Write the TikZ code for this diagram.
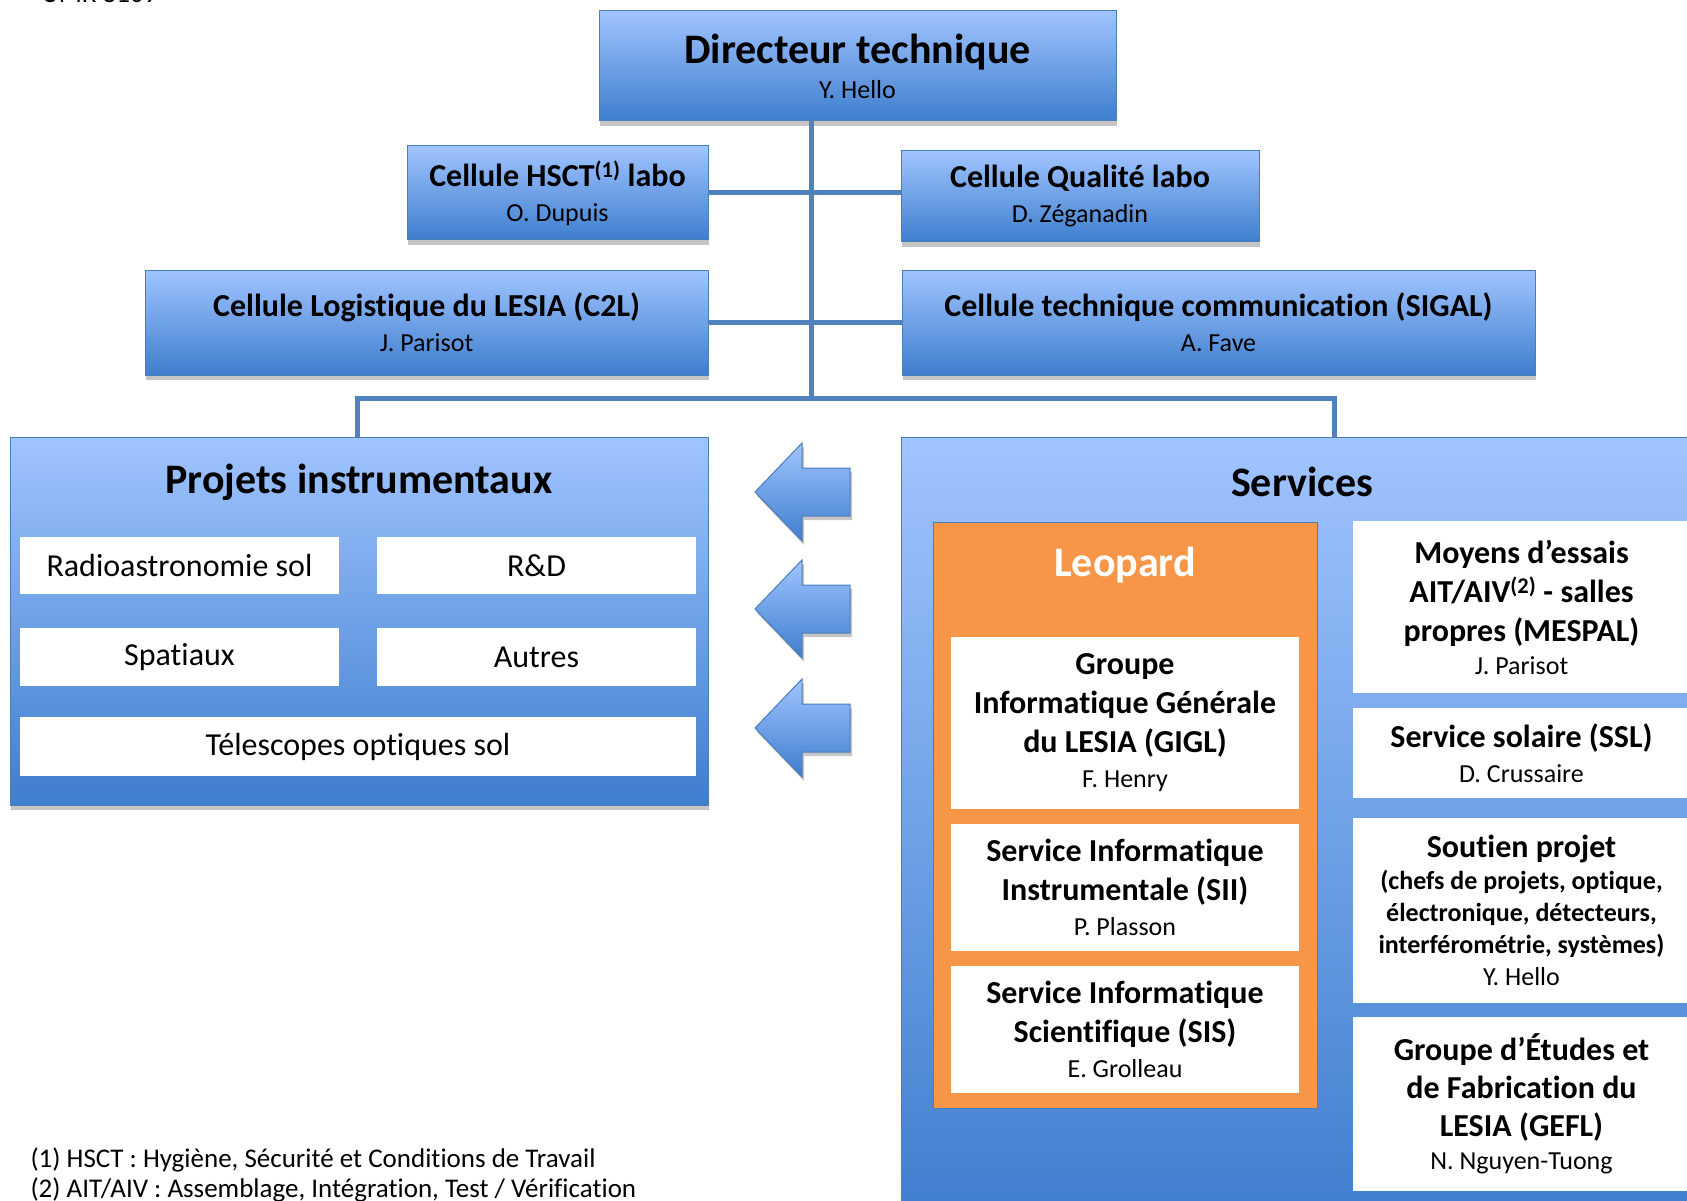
\documentclass[tikz,border=0pt]{standalone}
\usepackage{fontspec}
\setmainfont{Carlito}[Ligatures={NoCommon,NoContextual}]
\usetikzlibrary{shadows}
\definecolor{boxtop}{RGB}{160,196,255}
\definecolor{boxbot}{RGB}{62,126,205}
\definecolor{boxline}{RGB}{74,126,187}
\definecolor{linkblue}{RGB}{79,129,189}
\definecolor{leoorange}{RGB}{247,150,70}
\newcommand\ttl{\fontsize{32}{35}\selectfont\bfseries}
\newcommand\nme{\fontsize{26}{35}\selectfont}
\newcommand\bigttl{\fontsize{42}{48}\selectfont\bfseries}
\newcommand\smallttl{\fontsize{26}{32}\selectfont\bfseries}
\newcommand\txt{\fontsize{32}{38}\selectfont}
\newcommand\foot{\fontsize{27}{30}\selectfont}
\begin{document}
\begin{tikzpicture}[x=1pt,y=-1pt,
    cell/.style={draw=boxline,line width=1pt,top color=boxtop,bottom color=boxbot,
      drop shadow={shadow xshift=1pt,shadow yshift=-5pt,fill=black!45,opacity=0.5},
      align=center,font=\nme,inner sep=0pt},
    whitebox/.style={fill=white,align=center,font=\nme,inner sep=0pt},
    link/.style={draw=linkblue,line width=5pt},
    fatarrow/.style={draw=boxline,line width=1pt,top color=boxtop,bottom color=boxbot,
      drop shadow={shadow xshift=2pt,shadow yshift=-4pt,fill=black!45,opacity=0.5}}]
    \useasboundingbox (0,0) rectangle (1687,1201);
    \clip (0,0) rectangle (1687,1201);

    % top of the chart
    \node[cell,minimum width=517pt,minimum height=110pt] (dir) at (857.5,66)
        {\bigttl Directeur technique\\Y. Hello};
    \node[cell,minimum width=301pt,minimum height=94pt] (hsct) at (557.5,193)
        {\ttl Cellule HSCT\textsuperscript{(1)} labo\\O. Dupuis};
    \node[cell,minimum width=358pt,minimum height=91pt] (qual) at (1080,196.5)
        {\ttl Cellule Qualité labo\\D. Zéganadin};
    \node[cell,minimum width=563pt,minimum height=105pt] (ctl) at (426.5,322.5)
        {\ttl Cellule Logistique du LESIA (C2L)\\J. Parisot};
    \node[cell,minimum width=633pt,minimum height=105pt] (sigal) at (1218.5,322.5)
        {\ttl Cellule technique communication (SIGAL)\\A. Fave};

    % projets
    \node[cell,minimum width=698pt,minimum height=368pt] (projets) at (359,621) {};
    \node[font=\bigttl] (projT) at (359,482) {Projets instrumentaux};
    \node[whitebox,font=\txt,minimum width=319pt,minimum height=57pt] (radio) at (179.5,565.5) {Radioastronomie sol};
    \node[whitebox,font=\txt,minimum width=319pt,minimum height=57pt] (rd) at (536.5,565.5) {R\&D};
    \node[whitebox,font=\txt,minimum width=319pt,minimum height=58pt] (spat) at (179.5,657) {Spatiaux};
    \node[whitebox,font=\txt,minimum width=319pt,minimum height=58pt] (autres) at (536.5,657) {Autres};
    \node[whitebox,font=\txt,minimum width=676pt,minimum height=59pt] (telesc) at (358,746.5) {Télescopes optiques sol};

    % services
    \node[cell,minimum width=810pt,minimum height=790pt] (services) at (1306,832) {};
    \node[font=\bigttl] (servT) at (1302,482) {Services};
    \node[draw=boxline,fill=leoorange,minimum width=384pt,minimum height=586pt] (leopard) at (1125,815) {};
    \node[font=\bigttl,text=white] (leoT) at (1125,565) {Leopard};
    \node[whitebox,minimum width=348pt,minimum height=172pt] (gigl) at (1125,723)
        {\ttl Groupe\\[4pt]\ttl Informatique Générale\\[4pt]\ttl du LESIA (GIGL)\\F. Henry};
    \node[whitebox,minimum width=348pt,minimum height=127pt] (sii) at (1125,887.5)
        {\ttl Service Informatique\\[4pt]\ttl Instrumentale (SII)\\P. Plasson};
    \node[whitebox,minimum width=348pt,minimum height=127pt] (sis) at (1125,1029.5)
        {\ttl Service Informatique\\[4pt]\ttl Scientifique (SIS)\\E. Grolleau};
    \node[whitebox,minimum width=337pt,minimum height=172pt] (mespal) at (1521.5,607)
        {\ttl Moyens d’essais\\[4pt]\ttl AIT/AIV\textsuperscript{(2)} - salles\\[4pt]\ttl propres (MESPAL)\\[-2pt]J. Parisot};
    \node[whitebox,minimum width=337pt,minimum height=90pt] (ssl) at (1521.5,753)
        {\ttl Service solaire (SSL)\\D. Crussaire};
    \node[whitebox,font=\fontsize{26}{32}\selectfont,minimum width=337pt,minimum height=185pt] (soutien) at (1521.5,910.5)
        {\ttl Soutien projet\\\smallttl (chefs de projets, optique,\\\smallttl électronique, détecteurs,\\\smallttl interférométrie, systèmes)\\Y. Hello};
    \node[whitebox,minimum width=337pt,minimum height=174pt] (gefl) at (1521.5,1104)
        {\ttl Groupe d’Études et\\[3pt]\ttl de Fabrication du\\[3pt]\ttl LESIA (GEFL)\\[-2pt]N. Nguyen-Tuong};

    % arrows between services and projets
    \foreach \c in {492,609,728}
        \draw[fatarrow] (755,\c) -- (802,\c-49) -- (802,\c-24) -- (850,\c-24)
            -- (850,\c+24) -- (802,\c+24) -- (802,\c+49) -- cycle;

    % links
    \coordinate (trunk) at (811,398);
    \coordinate (busL) at (357,398);
    \coordinate (busR) at (1334,398);
    \draw[link] (dir.south -| trunk) -- (trunk);
    \draw[link] (hsct.east) -- (hsct.east -| qual.west);
    \draw[link] (ctl.east) -- (sigal.west);
    \draw[link] (projets.north -| busL) -- (busL) -- (busR) -- (services.north -| busR);

    % notes
    \node[anchor=base west,font=\foot] (umr) at (38,3) {UMR 8109};
    \node[anchor=west,font=\foot] (fn1) at (27,1160) {(1) HSCT : Hygiène, Sécurité et Conditions de Travail};
    \node[anchor=west,font=\foot] (fn2) at (27,1190) {(2) AIT/AIV : Assemblage, Intégration, Test / Vérification};
\end{tikzpicture}
\end{document}
